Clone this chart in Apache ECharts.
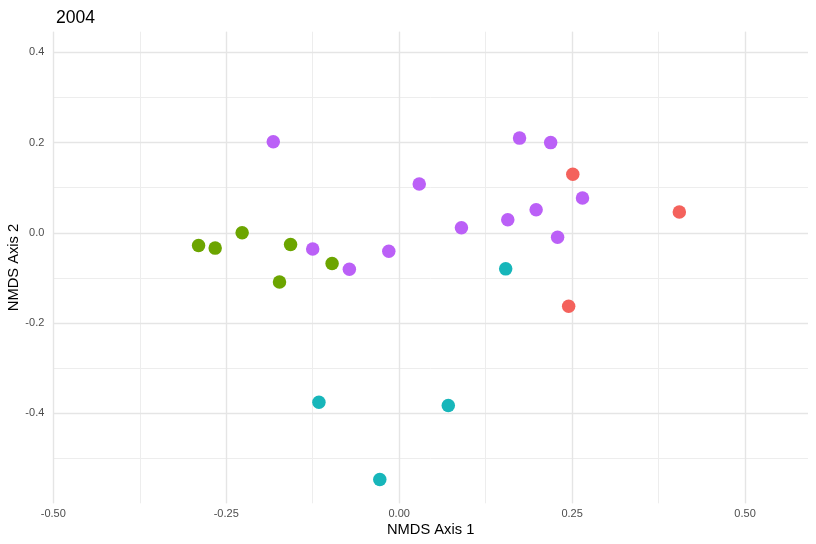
<!DOCTYPE html>
<html>
<head>
<meta charset="utf-8">
<script src="https://cdn.jsdelivr.net/npm/echarts@6/dist/echarts.min.js"></script>
<style>html,body{margin:0;padding:0;background:#fff}#c{width:816px;height:544px}</style>
</head>
<body>
<div id="c"></div>
<script>
const title = "2004";
const xName = "NMDS Axis 1";
const yName = "NMDS Axis 2";
const groupNames = ["A", "B", "C", "D"];
const groupColors = ["#F4625C", "#6CA500", "#17B6BA", "#BB60F7"];
// group A (red)
const groupA = [[0.251, 0.130], [0.405, 0.046], [0.245, -0.163]];
// group B (green)
const groupB = [[-0.290, -0.028], [-0.266, -0.034], [-0.227, 0.000], [-0.157, -0.026], [-0.097, -0.068], [-0.173, -0.109]];
// group C (cyan)
const groupC = [[0.154, -0.080], [-0.116, -0.376], [0.071, -0.383], [-0.028, -0.547]];
// group D (purple)
const groupD = [[-0.182, 0.202], [0.029, 0.108], [-0.125, -0.036], [-0.072, -0.081], [-0.015, -0.041],
  [0.174, 0.210], [0.219, 0.200], [0.265, 0.077], [0.198, 0.051], [0.157, 0.029], [0.090, 0.011], [0.229, -0.010]];
const xTicks = [-0.50, -0.25, 0.00, 0.25, 0.50];
const yTicks = [-0.4, -0.2, 0.0, 0.2, 0.4];

const groups = [groupA, groupB, groupC, groupD];
const font = "Liberation Sans, Arial, Helvetica, sans-serif";
const majorColor = "#E5E5E5";
const minorColor = "#EDEDED";

const chart = echarts.init(document.getElementById('c'));
const xMin = -0.5, xMax = 0.591, yMin = -0.6, yMax = 0.446;

function fmtX(v) {
  const hit = xTicks.find(t => Math.abs(t - v) < 1e-6);
  return hit === undefined ? '' : hit.toFixed(2);
}
function fmtY(v) {
  const hit = yTicks.find(t => Math.abs(t - v) < 1e-6);
  return hit === undefined ? '' : hit.toFixed(1);
}

chart.setOption({
  animation: false,
  backgroundColor: '#fff',
  title: {
    text: title, left: 51, top: 4,
    textStyle: { fontFamily: font, fontSize: 17.6, fontWeight: 'normal', color: '#000' }
  },
  grid: { left: 53.3, right: 8, top: 31.7, bottom: 40.7, containLabel: false, outerBoundsMode: 'none' },
  xAxis: [
    {
      type: 'value', min: xMin, max: xMax, interval: 0.25, z: 2,
      name: xName, nameLocation: 'middle', nameGap: 19, nameMoveOverlap: false,
      nameTextStyle: { fontFamily: font, fontSize: 14.7, color: '#000' },
      axisLine: { show: false }, axisTick: { show: false },
      axisLabel: { show: true, margin: 5, formatter: fmtX, showMaxLabel: false,
        fontFamily: font, fontSize: 11, color: '#4D4D4D' },
      splitLine: { show: true, showMaxLine: false, showMinLine: true, lineStyle: { color: majorColor, width: 1.4 } }
    },
    {
      type: 'value', min: xMin, max: xMax, interval: 0.125, z: 1, position: 'bottom',
      axisLine: { show: false }, axisTick: { show: false }, axisLabel: { show: false },
      splitLine: { show: true, showMaxLine: false, showMinLine: true, lineStyle: { color: minorColor, width: 1 } }
    }
  ],
  yAxis: [
    {
      type: 'value', min: yMin, max: yMax, interval: 0.2, z: 2,
      name: yName, nameLocation: 'middle', nameGap: 32, nameMoveOverlap: false,
      nameTextStyle: { fontFamily: font, fontSize: 14.7, color: '#000' },
      axisLine: { show: false }, axisTick: { show: false },
      axisLabel: { show: true, margin: 9, formatter: fmtY, showMaxLabel: false, showMinLabel: false,
        fontFamily: font, fontSize: 11, color: '#4D4D4D' },
      splitLine: { show: true, showMaxLine: false, showMinLine: false, lineStyle: { color: majorColor, width: 1.4 } }
    },
    {
      type: 'value', min: yMin, max: yMax, interval: 0.1, z: 1, position: 'left',
      axisLine: { show: false }, axisTick: { show: false }, axisLabel: { show: false },
      splitLine: { show: true, showMaxLine: false, showMinLine: false, lineStyle: { color: minorColor, width: 1 } }
    }
  ],
  series: groups.map((g, i) => ({
    name: groupNames[i],
    type: 'scatter',
    xAxisIndex: 0, yAxisIndex: 0,
    symbol: 'circle', symbolSize: 13.5,
    itemStyle: { color: groupColors[i], opacity: 1 },
    data: g,
    z: 5
  }))
});
</script>
</body>
</html>
